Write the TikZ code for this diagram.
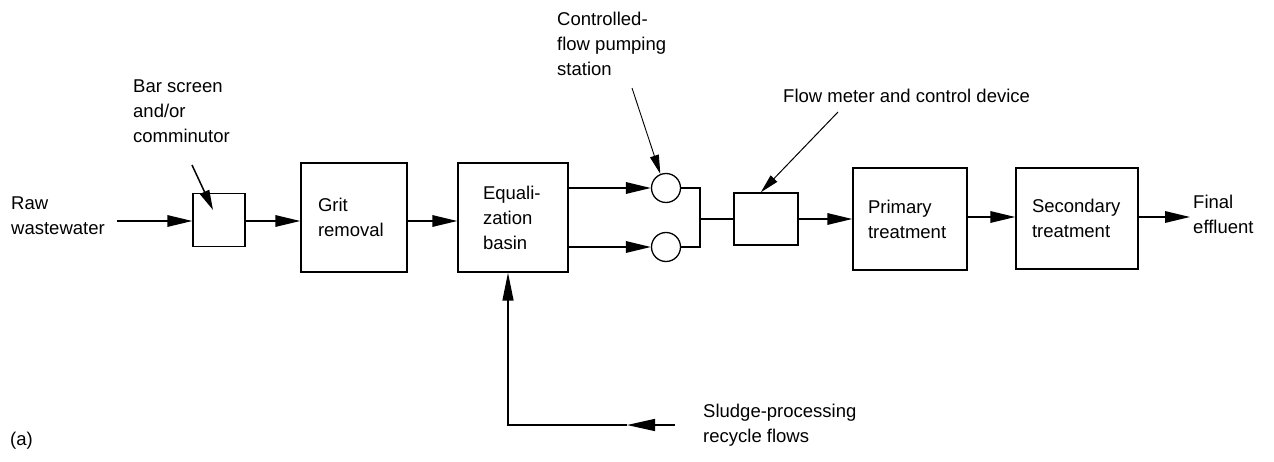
\documentclass[tikz,border=0pt]{standalone}
\usepackage{fontspec}
\setmainfont{Liberation Sans}
\usetikzlibrary{arrows.meta,calc}
\begin{document}
\begin{tikzpicture}[x=1pt,y=-1pt,
  every node/.style={font=\fontsize{18.5}{25}\selectfont, text=black},
  lbl/.style={align=left, inner sep=0pt},
  box/.style={draw, line width=1.4pt, align=left, inner ysep=0pt},
  pump/.style={draw, circle, line width=1.3pt, minimum size=29pt, inner sep=0pt},
  flow/.style={line width=1.6pt, -{Triangle[length=25pt,width=11.5pt]}},
  plain/.style={line width=1.6pt},
  note/.style={line width=1pt, -{Triangle[length=19pt,width=9pt]}}
]
\useasboundingbox (0,0) rectangle (1274,462);

% boxes
\node[box, minimum width=52pt, minimum height=53pt, text width=1pt, inner xsep=0pt] (bar) at (219,220) {};
\node[box, minimum height=109pt, text width=72pt, inner xsep=17pt] (grit) at (354,217.5) {Grit\\removal};
\node[box, minimum height=109pt, text width=60pt, inner xsep=25pt] (eq) at (513,217.5) {Equali-\\zation\\basin};
\node[pump] (p1) at (666,188) {};
\node[pump] (p2) at (666,247) {};
\node[box, minimum width=64pt, minimum height=52pt, text width=1pt, inner xsep=0pt] (fm) at (766,219) {};
\node[box, minimum height=102pt, text width=84pt, inner xsep=15pt] (prim) at (910,219) {Primary\\treatment};
\node[box, minimum height=101pt, text width=90pt, inner xsep=16pt] (sec) at (1077,218.5) {Secondary\\treatment};

% labels
\node[lbl, anchor=west] (raw) at (11,216) {Raw\\wastewater};
\node[lbl, anchor=west] (fin) at (1193,214) {Final\\effluent};
\node[lbl, anchor=west] (barlbl) at (133,111) {Bar screen\\and/or\\comminutor};
\node[lbl, anchor=west] (pumplbl) at (557,44) {Controlled-\\flow pumping\\station};
\node[lbl, anchor=west] (fmlbl) at (783,96) {Flow meter and control device};
\node[lbl, anchor=west] (sludge) at (703,425) {Sludge-processing\\recycle flows};
\node[lbl, anchor=west] (alabel) at (10,441) {(a)};

% coordinates
\coordinate (rawstart) at (117,221);
\coordinate (finend) at (1190,217);
\coordinate (join) at (700,219);
\coordinate (rs) at (675,425);
\coordinate (rmid) at (627,425);
\coordinate (rc) at (508,425);
\coordinate (ba1) at (192,165);
\coordinate (ba2) at (213,210);
\coordinate (pa1) at (632,88);
\coordinate (fa1) at (838,112);

% main flow
\draw[flow] (rawstart) -- (rawstart -| bar.west);
\draw[flow] (bar.east |- rawstart) -- (rawstart -| grit.west);
\draw[flow] (grit.east |- rawstart) -- (rawstart -| eq.west);
\draw[flow] (eq.east |- p1) -- (p1.west);
\draw[flow] (eq.east |- p2) -- (p2.west);
\draw[plain] (p1.east) -- (p1.east -| join) -- (p2.east -| join) -- (p2.east);
\draw[plain] (join) -- (fm.west |- join);
\draw[flow] (fm.east |- join) -- (join -| prim.west);
\draw[flow] (prim.east |- 0,217) -- (sec.west |- 0,217);
\draw[flow] (sec.east |- finend) -- (finend);

% recycle
\draw[line width=1.4pt, -{Triangle[length=28pt,width=12pt]}] (rs) -- (rmid);
\draw[line width=1.4pt, -{Triangle[length=28pt,width=11pt]}] (rmid) -- (rc) -- (rc |- eq.south);

% annotations
\draw[note, line width=1.5pt, -{Triangle[length=20pt,width=10pt]}] (ba1) -- (ba2);
\draw[note, line width=0.9pt] (pa1) -- (p1.112);
\draw[note] (fa1) -- (fm.101);
\end{tikzpicture}
\end{document}
